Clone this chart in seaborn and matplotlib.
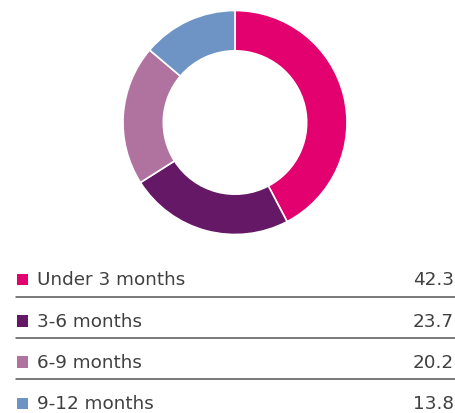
import matplotlib
matplotlib.use("Agg")
import matplotlib.pyplot as plt
import seaborn as sns
import numpy as np

categories = ["Under 3 months", "3-6 months", "6-9 months", "9-12 months"]
values = [42.3, 23.7, 20.2, 13.8]
value_labels = ["42.3", "23.7", "20.2", "13.8"]
colors = ["#E3006F", "#651865", "#B0739F", "#6E94C6"]

sns.set_theme(style="white")
plt.rcParams['font.family'] = ['DejaVu Sans']

W, H = 455, 414
fig = plt.figure(figsize=(W / 100, H / 100), dpi=100)
fig.patch.set_facecolor("white")

# Donut
cx, cy, r = 235, 123.5, 112
ax = fig.add_axes([(cx - r) / W, 1 - (cy + r) / H, 2 * r / W, 2 * r / H])
ax.pie(values, colors=colors, startangle=90, counterclock=False,
       wedgeprops=dict(width=0.36, edgecolor="white", linewidth=1.2))
ax.set_xlim(-1, 1)
ax.set_ylim(-1, 1)
ax.set_aspect("equal")
ax.axis("off")

# Legend table
lax = fig.add_axes([0, 0, 1, 1])
lax.set_xlim(0, W)
lax.set_ylim(H, 0)
lax.axis("off")
row0, step = 280.5, 41.3
ys = [row0 + i * step for i in range(len(categories))]
sns.scatterplot(x=[22.5] * len(categories), y=ys, hue=categories, palette=colors,
                marker="s", s=72, linewidth=0, legend=False, ax=lax)
for i, (cat, lab) in enumerate(zip(categories, value_labels)):
    lax.text(37, ys[i], cat, fontsize=13.2, color="#404040", va="center", ha="left")
    lax.text(454, ys[i], lab, fontsize=13.2, color="#404040", va="center", ha="right")
    if i < len(categories) - 1:
        lax.plot([16, W], [ys[i] + 17.2] * 2, color="#555555", linewidth=1.1)

fig.savefig("out.png", dpi=100, facecolor="white")
